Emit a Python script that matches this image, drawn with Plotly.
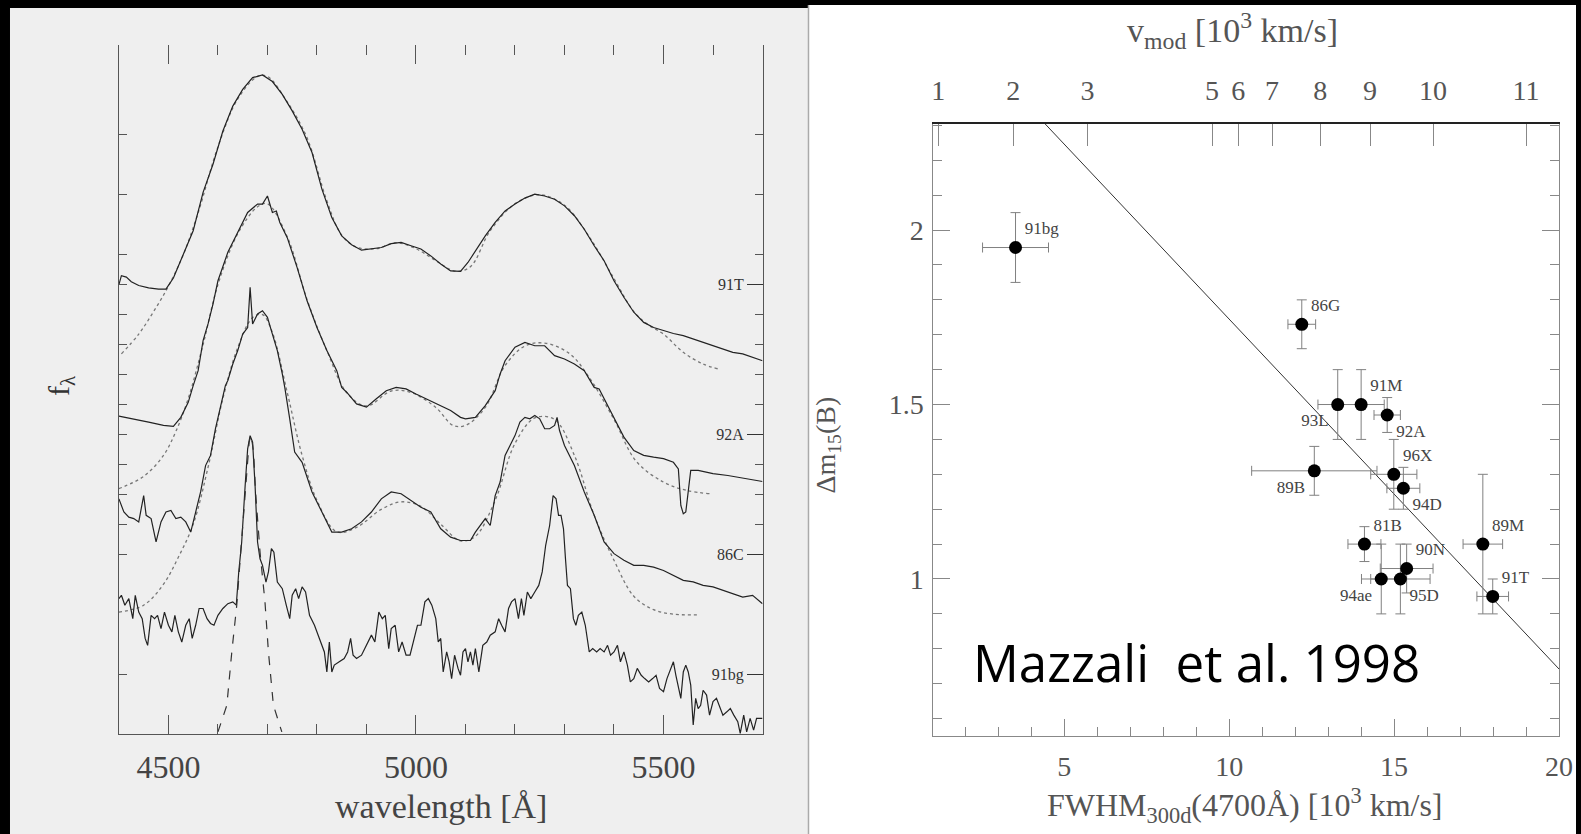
import plotly.graph_objects as go

W, H = 1581, 834          # target picture size in pixels (positions below are given in this frame)
FIG_W = 1596              # layout width of the figure

# ---------------- left panel: spectra (wavelength [A], flux in arbitrary offset units) ----------------
SPEC_91T = [(4400, 15.0), (4405, 15.3), (4415, 15.25), (4425, 15.1), (4440, 14.97), (4460, 14.89),
            (4480, 14.85), (4495, 14.85), (4510, 15.22), (4530, 16.02), (4550, 16.80), (4570, 18.08),
            (4590, 19.02), (4610, 20.13), (4630, 20.96), (4650, 21.52), (4670, 21.91), (4690, 22.0),
            (4710, 21.78), (4730, 21.35), (4750, 20.80), (4770, 20.19), (4790, 19.41), (4810, 18.19),
            (4830, 17.24), (4850, 16.63), (4870, 16.33), (4890, 16.15), (4910, 16.19), (4930, 16.24),
            (4950, 16.37), (4970, 16.41), (4990, 16.30), (5010, 16.19), (5030, 15.96), (5050, 15.69),
            (5070, 15.46), (5090, 15.44), (5105, 15.74), (5120, 16.13), (5140, 16.63), (5160, 17.08),
            (5180, 17.46), (5200, 17.69), (5220, 17.89), (5240, 18.02), (5260, 17.96), (5280, 17.85),
            (5300, 17.63), (5320, 17.30), (5340, 16.85), (5360, 16.30), (5380, 15.80), (5400, 15.13),
            (5420, 14.58), (5440, 14.08), (5460, 13.74), (5480, 13.57), (5500, 13.46), (5520, 13.37),
            (5540, 13.30), (5560, 13.19), (5580, 13.07), (5600, 12.96), (5620, 12.85), (5640, 12.74),
            (5660, 12.69), (5680, 12.58), (5700, 12.46)]

MODEL_91T = [(4405, 12.69), (4440, 13.35), (4470, 14.1), (4500, 14.95), (4530, 16.0), (4560, 17.4),
             (4600, 19.6), (4640, 21.2), (4680, 21.95), (4700, 21.95), (4740, 21.1), (4780, 19.9),
             (4820, 17.8), (4850, 16.65), (4880, 16.25), (4920, 16.2), (4960, 16.4), (5000, 16.2),
             (5040, 15.8), (5080, 15.45), (5110, 15.6), (5150, 16.8), (5200, 17.7), (5250, 18.0),
             (5300, 17.65), (5350, 16.6), (5400, 15.2), (5440, 14.1), (5470, 13.65), (5500, 13.35),
             (5540, 12.74), (5580, 12.35), (5610, 12.19)]

SPEC_92A = [(4400, 10.61), (4430, 10.52), (4460, 10.41), (4490, 10.30), (4510, 10.27), (4525, 10.57),
            (4540, 11.07), (4550, 11.63), (4560, 12.13), (4570, 13.13), (4580, 13.69), (4590, 14.35),
            (4600, 15.13), (4620, 16.08), (4640, 16.74), (4660, 17.41), (4680, 17.69), (4690, 17.69),
            (4700, 17.96), (4710, 17.41), (4718, 17.46), (4725, 17.07), (4740, 16.57), (4760, 15.57),
            (4780, 14.46), (4800, 13.57), (4820, 12.80), (4840, 12.13), (4850, 11.57), (4860, 11.41),
            (4880, 11.02), (4900, 10.91), (4920, 11.19), (4940, 11.46), (4960, 11.57), (4980, 11.52),
            (5000, 11.35), (5020, 11.19), (5040, 11.02), (5050, 10.96), (5070, 10.80), (5090, 10.57),
            (5100, 10.52), (5120, 10.57), (5140, 10.96), (5160, 11.46), (5170, 12.02), (5180, 12.46),
            (5200, 12.91), (5220, 13.07), (5240, 12.96), (5260, 12.96), (5280, 12.63), (5300, 12.52),
            (5320, 12.35), (5340, 12.13), (5360, 11.57), (5370, 11.52), (5380, 11.19), (5400, 10.52),
            (5420, 9.91), (5440, 9.46), (5460, 9.30), (5480, 9.24), (5500, 9.19), (5520, 9.07),
            (5530, 8.85), (5535, 7.63), (5540, 7.35), (5545, 7.41), (5550, 8.07), (5555, 8.80),
            (5570, 8.80), (5600, 8.69), (5630, 8.63), (5650, 8.57), (5680, 8.50), (5700, 8.43)]

MODEL_92A = [(4400, 8.19), (4450, 8.6), (4490, 9.3), (4515, 10.1), (4540, 11.2), (4570, 13.0),
             (4600, 15.0), (4640, 16.7), (4680, 17.6), (4700, 17.7), (4740, 16.6), (4780, 14.5),
             (4820, 12.8), (4860, 11.4), (4900, 10.95), (4950, 11.45), (4990, 11.4), (5040, 10.9),
             (5075, 10.3), (5100, 10.3), (5140, 10.9), (5180, 12.3), (5220, 12.95), (5260, 13.05),
             (5310, 12.7), (5350, 11.9), (5400, 10.5), (5445, 9.1), (5500, 8.41), (5547, 8.13),
             (5594, 8.02)]

SPEC_86C = [(4400, 7.85), (4410, 7.41), (4420, 7.24), (4430, 7.19), (4440, 7.08), (4450, 7.96),
            (4455, 7.30), (4465, 7.19), (4475, 6.41), (4485, 7.08), (4495, 7.41), (4505, 7.46),
            (4515, 7.19), (4525, 7.24), (4535, 7.08), (4545, 6.74), (4555, 7.41), (4565, 8.08),
            (4575, 8.96), (4585, 9.30), (4595, 10.19), (4605, 10.96), (4615, 11.63), (4620, 11.80),
            (4630, 12.35), (4640, 12.80), (4650, 13.35), (4660, 13.57), (4665, 14.91), (4670, 13.69),
            (4680, 14.02), (4690, 14.13), (4700, 13.91), (4710, 13.35), (4720, 12.80), (4730, 12.02),
            (4735, 11.57), (4745, 10.52), (4755, 9.41), (4770, 9.07), (4790, 8.08), (4810, 7.41),
            (4830, 6.74), (4850, 6.74), (4870, 6.85), (4890, 7.08), (4910, 7.41), (4930, 7.85),
            (4950, 8.08), (4970, 8.02), (4990, 7.80), (5010, 7.57), (5030, 7.41), (5045, 6.96),
            (5050, 6.85), (5070, 6.57), (5090, 6.46), (5100, 6.46), (5110, 6.46), (5120, 6.74),
            (5130, 6.96), (5140, 7.19), (5150, 6.96), (5160, 7.96), (5170, 8.41), (5180, 9.30),
            (5190, 9.63), (5200, 9.96), (5210, 10.41), (5220, 10.57), (5230, 10.52), (5240, 10.63),
            (5250, 10.52), (5260, 10.19), (5270, 10.19), (5280, 10.30), (5285, 10.57), (5290, 10.13),
            (5300, 9.63), (5320, 8.96), (5340, 8.08), (5360, 7.30), (5380, 6.41), (5400, 6.02),
            (5420, 5.80), (5440, 5.63), (5460, 5.63), (5480, 5.57), (5500, 5.46), (5520, 5.30),
            (5540, 5.13), (5560, 5.08), (5580, 4.96), (5600, 4.91), (5620, 4.80), (5640, 4.69),
            (5660, 4.57), (5680, 4.63), (5700, 4.35)]

MODEL_86C = [(4400, 4.07), (4450, 4.3), (4490, 5.0), (4520, 5.9), (4550, 7.0), (4580, 8.9),
             (4610, 11.2), (4640, 12.9), (4670, 13.9), (4690, 14.0), (4710, 13.4), (4740, 11.4),
             (4770, 9.3), (4800, 7.8), (4840, 6.75), (4880, 6.9), (4930, 7.5), (4970, 7.75),
             (5010, 7.6), (5050, 7.0), (5090, 6.45), (5120, 6.6), (5160, 7.8), (5200, 9.7),
             (5240, 10.55), (5280, 10.5), (5320, 9.3), (5360, 7.3), (5400, 5.8), (5440, 4.6),
             (5480, 4.15), (5520, 4.0), (5570, 3.98)]

SPEC_91bg = [(4400, 4.52), (4405, 4.63), (4412, 4.30), (4420, 4.52), (4428, 3.85), (4433, 4.63),
             (4440, 4.07), (4447, 3.85), (4453, 3.19), (4458, 2.96), (4465, 3.96), (4472, 3.85),
             (4478, 3.96), (4485, 3.52), (4492, 4.07), (4500, 3.63), (4507, 3.41), (4513, 3.96),
             (4520, 3.41), (4527, 3.07), (4535, 3.63), (4542, 3.85), (4548, 3.19), (4555, 3.63),
             (4562, 4.19), (4570, 4.19), (4578, 3.85), (4585, 3.69), (4592, 3.63), (4600, 3.96),
             (4610, 4.19), (4620, 4.35), (4630, 4.41), (4637, 4.30), (4642, 5.41), (4648, 6.41),
             (4655, 8.30), (4660, 9.52), (4665, 9.96), (4670, 9.74), (4675, 8.30), (4680, 6.41),
             (4685, 5.85), (4690, 5.63), (4697, 5.07), (4702, 5.41), (4708, 6.19), (4713, 6.07),
             (4720, 5.07), (4730, 4.85), (4738, 4.30), (4745, 3.85), (4750, 4.63), (4757, 4.85),
             (4763, 4.52), (4770, 4.91), (4777, 4.74), (4785, 3.96), (4795, 3.63), (4805, 3.19),
             (4815, 2.74), (4820, 2.07), (4825, 3.07), (4830, 2.07), (4835, 2.30), (4845, 2.41),
             (4855, 2.52), (4862, 2.74), (4868, 3.19), (4873, 2.63), (4880, 2.52), (4890, 2.63),
             (4900, 2.96), (4910, 3.30), (4917, 3.07), (4925, 4.07), (4932, 3.85), (4938, 3.96),
             (4945, 2.85), (4950, 3.52), (4958, 3.63), (4965, 2.74), (4972, 3.07), (4980, 2.63),
             (4988, 2.63), (4995, 3.07), (5003, 3.63), (5010, 3.63), (5018, 4.41), (5025, 4.52),
             (5032, 4.30), (5040, 3.85), (5045, 3.07), (5050, 3.19), (5055, 2.07), (5062, 2.74),
             (5067, 2.41), (5072, 1.85), (5078, 2.63), (5085, 2.19), (5090, 1.96), (5095, 2.74),
             (5100, 2.85), (5105, 2.41), (5110, 2.74), (5115, 2.30), (5120, 2.85), (5127, 2.07),
             (5135, 2.96), (5143, 3.07), (5150, 3.30), (5160, 3.41), (5167, 3.85), (5173, 3.63),
             (5180, 3.41), (5187, 4.19), (5193, 4.41), (5200, 4.52), (5207, 3.85), (5213, 4.52),
             (5218, 3.96), (5225, 4.74), (5232, 4.52), (5240, 4.74), (5248, 4.96), (5255, 5.41),
             (5262, 6.30), (5270, 6.96), (5277, 7.96), (5283, 7.85), (5288, 7.30), (5293, 7.30),
             (5298, 6.85), (5302, 5.85), (5306, 4.96), (5312, 4.85), (5318, 3.85), (5323, 3.63),
             (5328, 3.96), (5335, 4.07), (5342, 3.63), (5350, 2.74), (5357, 2.85), (5365, 2.74),
             (5372, 2.85), (5380, 2.74), (5387, 2.96), (5393, 2.63), (5400, 2.74), (5407, 2.96),
             (5413, 2.41), (5420, 2.74), (5427, 2.30), (5433, 1.74), (5440, 1.85), (5447, 2.19),
             (5455, 1.96), (5462, 1.85), (5470, 1.74), (5478, 1.85), (5485, 1.96), (5492, 1.52),
             (5500, 1.41), (5507, 1.85), (5515, 2.19), (5520, 2.41), (5525, 1.96), (5530, 1.52),
             (5535, 1.19), (5540, 2.07), (5545, 2.30), (5550, 2.07), (5555, 1.63), (5560, 0.30),
             (5565, 1.19), (5570, 0.85), (5575, 0.96), (5580, 1.46), (5587, 1.30), (5593, 0.63),
             (5600, 1.08), (5607, 1.19), (5613, 0.96), (5620, 0.63), (5628, 0.74), (5635, 0.85),
             (5642, 0.63), (5650, 0.41), (5655, 0.02), (5662, 0.63), (5668, 0.07), (5675, 0.52),
             (5682, 0.13), (5688, 0.52), (5695, 0.52), (5700, 0.52)]

# narrow dashed profile under the 91bg Fe peak
PROFILE_91bg = [(4600, 0.07), (4618, 0.96), (4628, 2.74), (4638, 4.30), (4645, 5.85), (4652, 7.41),
                (4658, 8.85), (4663, 9.74), (4667, 9.99), (4672, 9.41), (4676, 8.08), (4685, 6.07),
                (4695, 4.41), (4702, 2.74), (4712, 0.96), (4729, 0.07)]

SN_NAMES_LEFT = ["91T", "92A", "86C", "91bg"]
SN_LABEL_LEVEL = [15, 10, 6, 2]
FLUX_TICKS = [2, 6, 7, 8, 9, 10, 11, 12, 13, 14, 15, 16, 18, 20]
WL_MAJOR = [4500, 5000, 5500]

# ---------------- right panel: Delta m15(B) vs FWHM ----------------
SN = ["91bg", "86G", "93L", "91M", "92A", "96X", "94D", "89B", "81B", "90N", "94ae", "95D", "89M", "91T"]
FWHM = [3.52, 12.20, 13.29, 14.00, 14.79, 14.99, 15.28, 12.58, 14.10, 15.38, 14.61, 15.19, 17.69, 17.99]
FWHM_ERR = [1.0, 0.42, 0.6, 0.7, 0.4, 0.7, 0.5, 1.9, 0.5, 0.8, 0.6, 0.9, 0.6, 0.48]
DM15 = [1.95, 1.73, 1.50, 1.50, 1.47, 1.30, 1.26, 1.31, 1.10, 1.03, 1.00, 1.00, 1.10, 0.95]
DM15_ERR = [0.10, 0.07, 0.10, 0.10, 0.05, 0.10, 0.06, 0.07, 0.05, 0.07, 0.10, 0.10, 0.20, 0.05]
LABEL_POS = ["top right", "top right", "bottom left", "top right", "bottom right", "top right",
             "bottom right", "bottom left", "top right", "top right", "bottom left", "bottom right",
             "top right", "top right"]

FIT_X = [4.42, 20.0]
FIT_Y = [2.304, 0.742]

# model velocity scale on the top axis: v_mod labels and the FWHM they sit at
VMOD_LABELS = ["1", "2", "3", "5", "6", "7", "8", "9", "10", "11"]
VMOD_AT_FWHM = [1.18, 3.45, 5.70, 9.48, 10.27, 11.30, 12.76, 14.27, 16.18, 19.0]

SERIF = "Liberation Serif, Times New Roman, serif"
INK = "#222"


def unzip(pairs):
    return [p[0] for p in pairs], [p[1] for p in pairs]


fig = go.Figure()

# spectra
for spec, model in [(SPEC_91T, MODEL_91T), (SPEC_92A, MODEL_92A), (SPEC_86C, MODEL_86C), (SPEC_91bg, None)]:
    if model is not None:
        mx, my = unzip(model)
        fig.add_trace(go.Scatter(x=mx, y=my, mode="lines", line=dict(color="#777", width=1.3, dash="dot",
                                 shape="spline"), xaxis="x", yaxis="y", showlegend=False, hoverinfo="skip"))
    sx, sy = unzip(spec)
    fig.add_trace(go.Scatter(x=sx, y=sy, mode="lines", line=dict(color=INK, width=1.2),
                             xaxis="x", yaxis="y", showlegend=False, hoverinfo="skip"))

px_, py_ = unzip(PROFILE_91bg)
fig.add_trace(go.Scatter(x=px_, y=py_, mode="lines", line=dict(color="#333", width=1.2, dash="dash"),
                         xaxis="x", yaxis="y", showlegend=False, hoverinfo="skip"))

# placeholder traces so the overlay axes are rendered
fig.add_trace(go.Scatter(x=[None], y=[None], xaxis="x3", yaxis="y", showlegend=False, hoverinfo="skip"))
fig.add_trace(go.Scatter(x=[None], y=[None], xaxis="x", yaxis="y2", showlegend=False, hoverinfo="skip"))
fig.add_trace(go.Scatter(x=[None], y=[None], xaxis="x4", yaxis="y3", showlegend=False, hoverinfo="skip"))

# fit line
fig.add_trace(go.Scatter(x=FIT_X, y=FIT_Y, mode="lines", line=dict(color="#333", width=1),
                         xaxis="x2", yaxis="y3", showlegend=False, hoverinfo="skip"))

# supernovae with error bars
fig.add_trace(go.Scatter(
    x=FWHM, y=DM15, mode="markers+text", text=SN, textposition=LABEL_POS,
    textfont=dict(family=SERIF, size=17, color="#444"),
    marker=dict(color="black", size=13),
    error_x=dict(type="data", array=FWHM_ERR, color="#808080", thickness=1, width=5),
    error_y=dict(type="data", array=DM15_ERR, color="#808080", thickness=1, width=5),
    xaxis="x2", yaxis="y3", showlegend=False, hoverinfo="skip"))


def fx(p):
    return p / W


def fy(p):
    return 1 - p / H


LX0, LX1, LY0, LY1 = 117, 761, 45, 734
RX0, RX1, RY0, RY1 = 932, 1558, 124, 736

left_tick = dict(color="#444", family=SERIF, size=32)
right_tick = dict(color="#555", family=SERIF, size=28)

fig.update_layout(
    width=FIG_W, height=H, autosize=False, margin=dict(l=0, r=0, t=0, b=0, pad=0),
    font=dict(family=SERIF, color="#444"),
    paper_bgcolor="black", plot_bgcolor="rgba(0,0,0,0)",
    xaxis=dict(domain=[fx(LX0), fx(LX1)], range=[4400, 5700], anchor="y",
               showline=True, linecolor="#555", linewidth=1, mirror=False,
               ticks="inside", tickvals=WL_MAJOR, ticklen=19, tickcolor="#555",
               minor=dict(dtick=100, tick0=4400, ticks="inside", ticklen=10, tickcolor="#555"),
               tickfont=left_tick, ticklabelstandoff=5, showgrid=False, zeroline=False),
    xaxis3=dict(overlaying="x", side="top", anchor="y", range=[4400, 5700],
                showline=False, ticks="inside", tickvals=WL_MAJOR, ticklen=19, tickcolor="#555",
                minor=dict(dtick=100, tick0=4400, ticks="inside", ticklen=10, tickcolor="#555"),
                showticklabels=False, showgrid=False, zeroline=False),
    yaxis=dict(domain=[fy(LY1), fy(LY0)], range=[0, 23], anchor="x",
               showline=True, linecolor="#555", linewidth=1, mirror="ticks",
               ticks="inside", tickvals=FLUX_TICKS, ticklen=8, tickcolor="#555",
               showticklabels=False, showgrid=False, zeroline=False),
    yaxis2=dict(overlaying="y", side="right", anchor="x", range=[0, 23],
                showline=False, ticks="inside", tickvals=SN_LABEL_LEVEL, ticktext=SN_NAMES_LEFT,
                ticklen=16, tickcolor="#333", ticklabelposition="inside", ticklabelstandoff=3,
                tickfont=dict(family=SERIF, size=16, color="#333"), showgrid=False, zeroline=False),
    xaxis2=dict(domain=[fx(RX0), fx(RX1)], range=[1.03, 20], anchor="y3",
                showline=True, linecolor="#888", linewidth=1, mirror=False,
                ticks="inside", tickvals=[5, 10, 15, 20], ticklen=17, tickcolor="#888",
                minor=dict(dtick=1, tick0=0, ticks="inside", ticklen=9, tickcolor="#888"),
                tickfont=right_tick, ticklabelstandoff=5, showgrid=False, zeroline=False),
    xaxis4=dict(overlaying="x2", side="top", anchor="y3", range=[1.03, 20],
                showline=True, linecolor="#222", linewidth=1.5,
                ticks="inside", tickvals=VMOD_AT_FWHM, ticktext=VMOD_LABELS, ticklen=22, tickcolor="#888",
                tickfont=right_tick, ticklabelstandoff=11, showgrid=False, zeroline=False),
    yaxis3=dict(domain=[fy(RY1), fy(RY0)], range=[0.55, 2.304], anchor="x2",
                showline=True, linecolor="#888", linewidth=1, mirror="ticks",
                ticks="inside", tickvals=[1, 1.5, 2], ticktext=["1", "1.5", "2"], ticklen=17, tickcolor="#888",
                minor=dict(dtick=0.1, tick0=0, ticks="inside", ticklen=9, tickcolor="#888"),
                tickfont=right_tick, ticklabelstandoff=3, showgrid=False, zeroline=False),
    shapes=[
        dict(type="rect", xref="paper", yref="paper", x0=fx(8), x1=fx(807), y0=0, y1=fy(8),
             fillcolor="#efefef", line=dict(width=0), layer="below"),
        dict(type="rect", xref="paper", yref="paper", x0=fx(807), x1=fx(1575), y0=0, y1=fy(5),
             fillcolor="white", line=dict(width=0), layer="below"),
        dict(type="line", xref="paper", yref="paper", x0=fx(807), x1=fx(807), y0=0, y1=fy(5),
             line=dict(color="#aaaaaa", width=1.5), layer="below"),
    ],
)


def label(text, x, y, size, color="#444", angle=0, family=SERIF, **kw):
    fig.add_annotation(text=text, x=fx(x), y=fy(y), xref="paper", yref="paper", showarrow=False,
                       xanchor="center", yanchor="middle", textangle=angle,
                       font=dict(family=family, size=size, color=color), **kw)


label("f<sub>λ</sub>", 59, 385, 30, "#333", angle=-90)
label("wavelength [Å]", 439, 806, 34, "#444")
label("v<sub>mod</sub> [10<sup>3</sup> km/s]", 1231, 31, 34, "#555")
label("FWHM<sub>300d</sub>(4700Å) [10<sup>3</sup> km/s]", 1244, 805, 32, "#555")
label("Δm<sub>15</sub>(B)", 826, 445, 28, "#555", angle=-90)
label("Mazzali\u00a0 et al. 1998", 1195, 662, 51, "black", family="Open Sans")

fig.write_html("out.html", config={"responsive": False, "displayModeBar": False})
